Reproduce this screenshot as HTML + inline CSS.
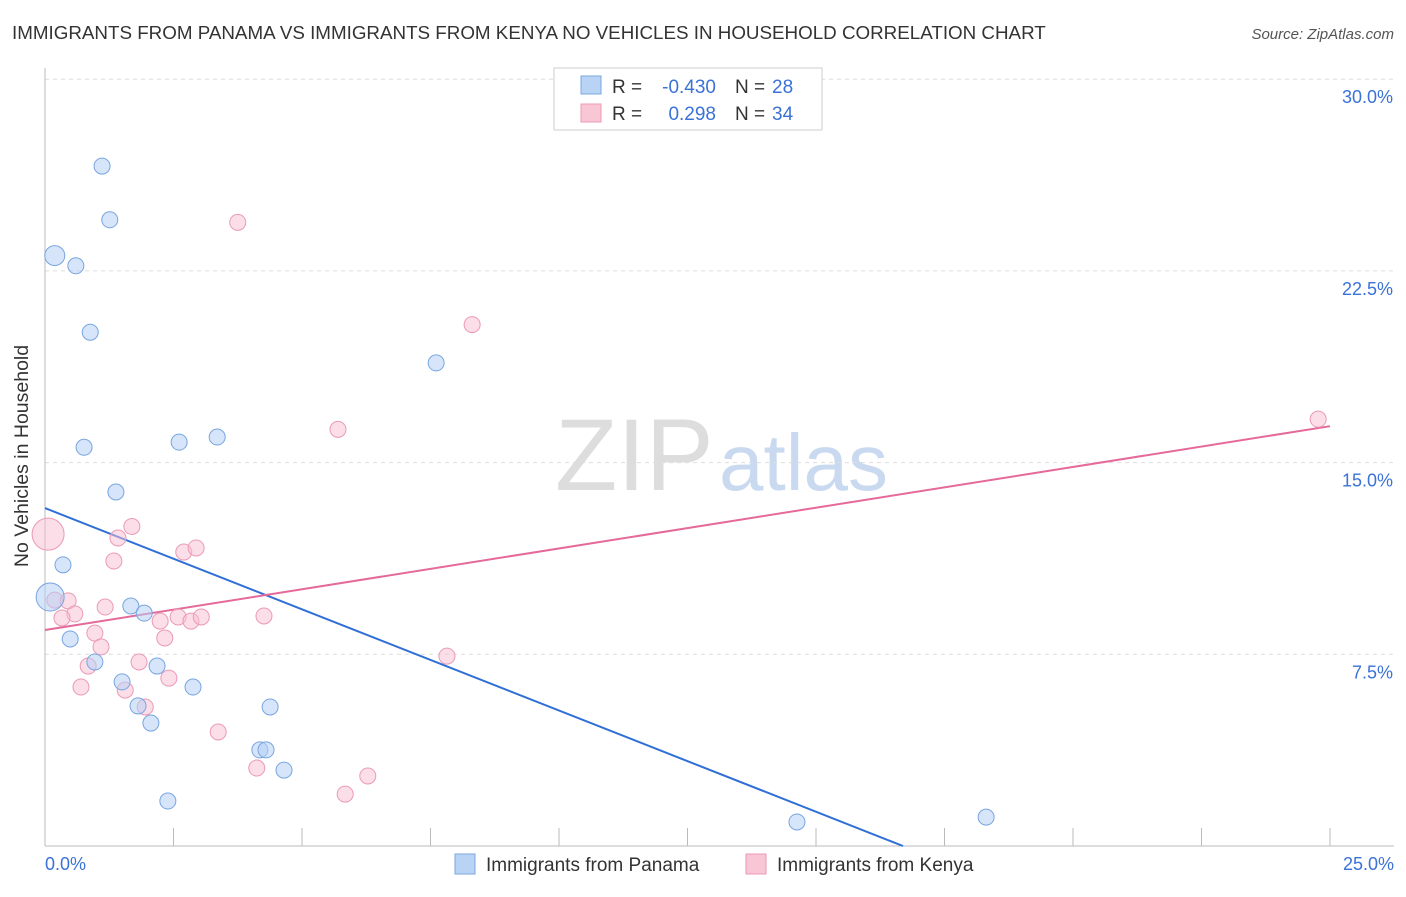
<!DOCTYPE html>
<html><head><meta charset="utf-8"><style>
body{margin:0;background:#fff;font-family:"Liberation Sans",sans-serif;}
svg text{font-family:"Liberation Sans",sans-serif;}
</style></head><body>
<svg id="chart" width="1406" height="892">
<text x="12" y="39" font-size="18.8" fill="#333">IMMIGRANTS FROM PANAMA VS IMMIGRANTS FROM KENYA NO VEHICLES IN HOUSEHOLD CORRELATION CHART</text>
<text x="1394" y="39" font-size="15" fill="#555" font-style="italic" text-anchor="end">Source: ZipAtlas.com</text>
<text x="28" y="456" font-size="19.5" fill="#333" text-anchor="middle" transform="rotate(-90 28 456)">No Vehicles in Household</text>
<g><text x="555" y="490" font-size="102" fill="#ddd" font-family="Liberation Serif">ZIP</text><text x="719" y="490" font-size="80" fill="#c9d9ef">atlas</text></g>
<g id="grid"></g><g id="axes"></g><g id="lines"></g><g id="points"></g>
<g>
<rect x="554" y="68" width="268" height="62" fill="#fff" stroke="#ccc"/>
<rect x="581" y="76" width="20" height="18" fill="#b9d3f5" stroke="#7aa7e0"/>
<rect x="581" y="104" width="20" height="18" fill="#f9c6d6" stroke="#ec9ab6"/>
<text x="612" y="93" font-size="19" fill="#333">R =</text>
<text x="716" y="93" font-size="19" fill="#3a72d8" text-anchor="end">-0.430</text>
<text x="735" y="93" font-size="19" fill="#333">N =</text>
<text x="772" y="93" font-size="19" fill="#3a72d8">28</text>
<text x="612" y="120" font-size="19" fill="#333">R =</text>
<text x="716" y="120" font-size="19" fill="#3a72d8" text-anchor="end">0.298</text>
<text x="735" y="120" font-size="19" fill="#333">N =</text>
<text x="772" y="120" font-size="19" fill="#3a72d8">34</text>
</g>
<g>
<rect x="455" y="854" width="20" height="20" fill="#b9d3f5" stroke="#7aa7e0"/>
<text x="486" y="871" font-size="19" fill="#333">Immigrants from Panama</text>
<rect x="746" y="854" width="20" height="20" fill="#f9c6d6" stroke="#ec9ab6"/>
<text x="777" y="871" font-size="19" fill="#333">Immigrants from Kenya</text>
</g>
</svg>
<script>
const yTicks=[7.5,15,22.5,30];
const yTickLabels=["7.5%","15.0%","22.5%","30.0%"];
const xTickLabels=["0.0%","25.0%"];
const panamaX=[1.11,1.26,0.19,0.60,0.88,7.61,0.76,2.61,3.35,1.38,0.35,0.10,0.49,1.67,1.93,0.97,2.18,1.50,2.88,1.81,2.06,4.38,4.18,4.30,4.65,2.39,14.63,18.31];
const panamaY=[26.6,24.5,23.1,22.7,20.1,18.9,15.6,15.8,16.0,13.85,11.0,9.74,8.10,9.39,9.11,7.20,7.04,6.42,6.22,5.48,4.81,5.44,3.76,3.76,2.97,1.76,0.94,1.13];
const panamaR=[8,8,10,8,8,8,8,8,8,8,8,14,8,8,8,8,8,8,8,8,8,8,8,8,8,8,8,8];
const kenyaX=[3.75,8.31,5.70,24.77,0.06,1.69,1.42,2.70,2.94,1.34,0.19,0.45,1.17,0.58,0.33,2.24,2.59,2.84,3.04,4.26,0.97,2.33,1.09,0.84,1.83,0.70,1.56,2.41,1.95,3.37,7.82,4.12,6.28,5.84];
const kenyaY=[24.4,20.4,16.3,16.7,12.2,12.5,12.05,11.5,11.66,11.15,9.62,9.59,9.35,9.08,8.92,8.80,8.96,8.80,8.96,9.00,8.33,8.14,7.79,7.04,7.20,6.22,6.10,6.57,5.44,4.46,7.43,3.05,2.74,2.03];
const kenyaR=[8,8,8,8,16,8,8,8,8,8,8,8,8,8,8,8,8,8,8,8,8,8,8,8,8,8,8,8,8,8,8,8,8,8];
const panamaTrend=[13.22,-0.792];
const kenyaTrend=[8.45,0.319];
const NS="http://www.w3.org/2000/svg";
const X=v=>45+v*1285/25, Y=v=>846-v*191.7/7.5;
function mk(p,t,a){const e=document.createElementNS(NS,t);for(const k in a)e.setAttribute(k,a[k]);document.getElementById(p).appendChild(e);return e;}
yTicks.forEach((t,i)=>{
 const l=mk('grid','line',{x1:45,x2:1394,y1:Y(t),y2:Y(t),stroke:'#ddd','stroke-dasharray':'4 4'});
 
 
 const tx=mk('grid','text',{x:1393,y:Y(t)+24,'font-size':18,fill:'#3a72d8','text-anchor':'end'});tx.textContent=yTickLabels[i];
 
 
});
const ax=mk('axes','line',{x1:45,x2:45,y1:68,y2:846,stroke:'#bbb'});


const bx=mk('axes','line',{x1:45,x2:1394,y1:846,y2:846,stroke:'#bbb'});


for(let i=0;i<=10;i++){const v=i*2.5;const t=mk('axes','line',{x1:X(v),x2:X(v),y1:828,y2:846,stroke:'#bbb'});
 
 }
[[0,'start',45],[25,'end',1394]].forEach((d,i)=>{const t=mk('axes','text',{x:d[2],y:870,'font-size':18,fill:'#3a72d8','text-anchor':d[1]});t.textContent=xTickLabels[i];
 
 });
function trend(tr,xEnd,col,name){let x2=xEnd,y2=tr[0]+tr[1]*xEnd;if(y2<0){x2=-tr[0]/tr[1];y2=0;}
 const l=mk('lines','line',{x1:X(0),y1:Y(tr[0]),x2:X(x2),y2:Y(y2),stroke:col,'stroke-width':2});
 
 }
trend(panamaTrend,25,'#2f6fd6','panama-trend-line');
trend(kenyaTrend,25,'#e5699a','kenya-trend-line');
function pts(xs,ys,rs,fill,st,name){xs.forEach((x,i)=>{const c=mk('points','circle',{cx:X(x),cy:Y(ys[i]),r:rs[i],fill:fill,stroke:st,'stroke-width':1});
 
 });}
pts(kenyaX,kenyaY,kenyaR,'rgba(249,190,210,0.5)','#eb9ab5','kenya-point');
pts(panamaX,panamaY,panamaR,'rgba(180,208,245,0.55)','#78a5e0','panama-point');
</script>
</body></html>
